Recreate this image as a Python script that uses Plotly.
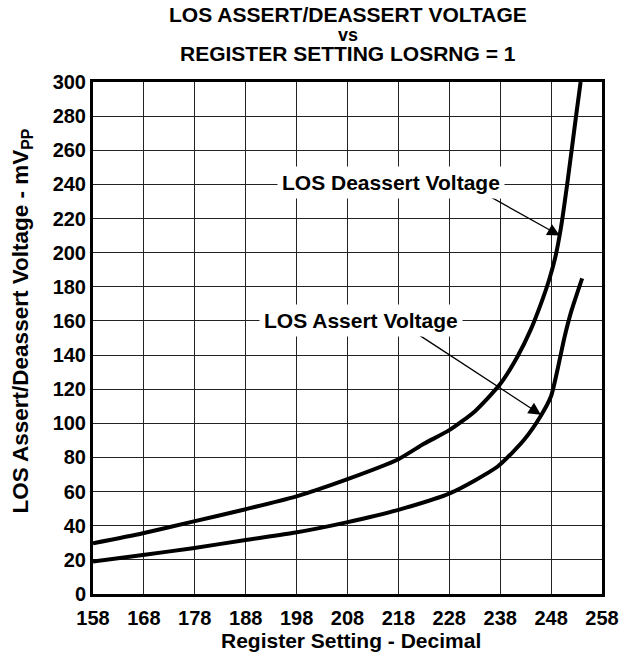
import plotly.graph_objects as go

# Register setting (decimal) vs voltage (mVpp)
deassert_reg = [158, 167.8, 177.6, 188, 197.8, 207.6, 218, 223, 228, 233, 238, 241.4, 244.0, 246.3, 247.6, 248.8, 249.9, 251.2, 252.9, 253.8]
deassert_mv = [29.7, 35.6, 42.4, 49.7, 57.1, 66.9, 79, 88, 96, 107, 123, 139.2, 154.9, 172.5, 184, 197, 214, 241, 280, 300]

assert_reg = [158, 167.8, 177.6, 188, 197.8, 207.6, 218, 228.4, 237.5, 242.7, 245.9, 248, 249.3, 250.6, 252, 254.1]
assert_mv = [19, 22.9, 26.8, 31.7, 36, 41.8, 49.3, 59.4, 74.7, 90.4, 104, 116, 132, 150, 166, 185]

x_ticks = [158, 168, 178, 188, 198, 208, 218, 228, 238, 248, 258]
y_ticks = [0, 20, 40, 60, 80, 100, 120, 140, 160, 180, 200, 220, 240, 260, 280, 300]

title_lines = ["LOS ASSERT/DEASSERT VOLTAGE", "vs", "REGISTER SETTING LOSRNG = 1"]

FONT = "Liberation Sans"

fig = go.Figure()
fig.add_trace(go.Scatter(x=deassert_reg, y=deassert_mv, mode="lines",
                         line=dict(color="black", width=4, shape="spline", smoothing=0.6),
                         name="LOS Deassert Voltage", showlegend=False))
fig.add_trace(go.Scatter(x=assert_reg, y=assert_mv, mode="lines",
                         line=dict(color="black", width=4, shape="spline", smoothing=0.6),
                         name="LOS Assert Voltage", showlegend=False))

# Leader arrows
fig.add_annotation(x=249.7, y=210, ax=232.9, ay=238, xref="x", yref="y", axref="x", ayref="y",
                   text="", showarrow=True, arrowhead=2, arrowsize=1.9, arrowwidth=1.3,
                   arrowcolor="black")
fig.add_annotation(x=246, y=105, ax=220.9, ay=154, xref="x", yref="y", axref="x", ayref="y",
                   text="", showarrow=True, arrowhead=2, arrowsize=1.9, arrowwidth=1.3,
                   arrowcolor="black")

# Label text boxes (white background hides gridlines)
fig.add_annotation(x=216.6, y=241, text="<b>LOS Deassert Voltage</b>", showarrow=False,
                   bgcolor="white", font=dict(family=FONT, size=21, color="black"),
                   borderpad=4)
fig.add_annotation(x=210.6, y=160.5, text="<b>LOS Assert Voltage</b>", showarrow=False,
                   bgcolor="white", font=dict(family=FONT, size=21, color="black"),
                   borderpad=4)

# Title lines (tight line spacing like the reference)
for txt, ys, sz in zip(title_lines, [68, 47, 29], [21, 18, 21]):
    fig.add_annotation(x=0.5, y=1, xref="paper", yref="paper", yanchor="middle",
                       yshift=ys, text=f"<b>{txt}</b>", showarrow=False,
                       font=dict(family=FONT, size=sz, color="black"))

# Axis titles
fig.add_annotation(x=0, y=0.532, xref="paper", yref="paper", xanchor="center", yanchor="middle",
                   xshift=-71, textangle=-90, showarrow=False,
                   text="<b>LOS Assert/Deassert Voltage - mV<sub>PP</sub></b>",
                   font=dict(family=FONT, size=22.5, color="black"))
fig.add_annotation(x=0.506, y=0, xref="paper", yref="paper", xanchor="center", yanchor="middle",
                   yshift=-46, showarrow=False,
                   text="<b>Register Setting - Decimal</b>",
                   font=dict(family=FONT, size=21, color="black"))

fig.update_layout(
    width=631, height=657,
    margin=dict(l=93, r=26, t=82, b=63),
    paper_bgcolor="white", plot_bgcolor="white",
    font=dict(family=FONT, color="black"),
)
fig.update_xaxes(range=[158, 258], tickvals=x_ticks, ticktext=[f"<b>{v}</b>" for v in x_ticks],
                 showgrid=True, gridcolor="#222222", gridwidth=1.3,
                 showline=True, linecolor="black", linewidth=3, mirror=True,
                 ticks="", zeroline=False, ticklabelstandoff=4,
                 tickfont=dict(family=FONT, size=20, color="black"))
fig.update_yaxes(range=[0, 300], tickvals=y_ticks, ticktext=[f"<b>{v}</b>" for v in y_ticks],
                 showgrid=True, gridcolor="#222222", gridwidth=1.3,
                 showline=True, linecolor="black", linewidth=3, mirror=True,
                 ticks="", zeroline=False,
                 tickfont=dict(family=FONT, size=20, color="black"))

fig.write_html("out.html", config={"displayModeBar": False},
               post_script="document.body.style.margin='0';")
